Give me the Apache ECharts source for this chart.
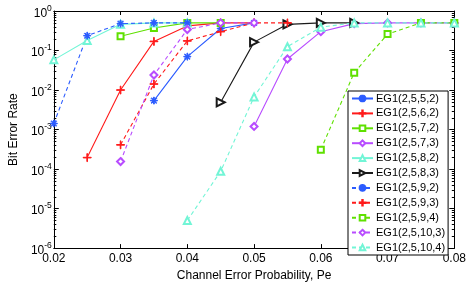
<!DOCTYPE html>
<html><head><meta charset="utf-8">
<script src="https://cdn.jsdelivr.net/npm/echarts@6/dist/echarts.min.js"></script>
<style>html,body{margin:0;padding:0;background:#fff}#c{width:469px;height:287px}</style>
</head><body><div id="c"></div>
<script>
// ---- data ----
const xTicks = [0.02, 0.03, 0.04, 0.05, 0.06, 0.07, 0.08];
const yExponents = [-6, -5, -4, -3, -2, -1, 0];
const seriesNames = ['EG1(2,5,5,2)','EG1(2,5,6,2)','EG1(2,5,7,2)','EG1(2,5,7,3)','EG1(2,5,8,2)','EG1(2,5,8,3)',
  'EG1(2,5,9,2)','EG1(2,5,9,3)','EG1(2,5,9,4)','EG1(2,5,10,3)','EG1(2,5,10,4)'];
const pe_5_2  = [0.035, 0.04, 0.045, 0.05];
const ber_5_2 = [5.4e-3, 0.07, 0.36, 0.5];
const pe_6_2  = [0.025, 0.03, 0.035, 0.04, 0.045, 0.05];
const ber_6_2 = [1.95e-4, 0.010, 0.17, 0.42, 0.5, 0.5];
const pe_7_2  = [0.03, 0.035, 0.04, 0.045];
const ber_7_2 = [0.23, 0.37, 0.5, 0.5];
const pe_7_3  = [0.05, 0.055, 0.06, 0.065, 0.07, 0.075, 0.08];
const ber_7_3 = [1.2e-3, 0.061, 0.30, 0.48, 0.5, 0.5, 0.5];
const pe_8_2  = [0.02, 0.025, 0.03, 0.035, 0.04];
const ber_8_2 = [0.058, 0.18, 0.46, 0.5, 0.5];
const pe_8_3  = [0.045, 0.05, 0.055, 0.06, 0.065];
const ber_8_3 = [4.9e-3, 0.163, 0.46, 0.5, 0.5];
const pe_9_2  = [0.02, 0.025, 0.03, 0.035, 0.04];
const ber_9_2 = [1.42e-3, 0.237, 0.48, 0.5, 0.5];
const pe_9_3  = [0.03, 0.035, 0.04, 0.045, 0.05, 0.055];
const ber_9_3 = [4.1e-4, 0.0142, 0.175, 0.30, 0.5, 0.5];
const pe_9_4  = [0.06, 0.065, 0.07, 0.075, 0.08];
const ber_9_4 = [3.1e-4, 0.0275, 0.26, 0.5, 0.5];
const pe_10_3  = [0.03, 0.035, 0.04, 0.045, 0.05];
const ber_10_3 = [1.55e-4, 0.024, 0.34, 0.5, 0.5];
const pe_10_4  = [0.04, 0.045, 0.05, 0.055, 0.06, 0.065, 0.07, 0.075, 0.08];
const ber_10_4 = [5e-6, 8.8e-5, 6.7e-3, 0.125, 0.39, 0.5, 0.5, 0.5, 0.5];
const minorTickValues = [];
for (let e = -6; e < 0; e++) for (let m = 2; m <= 9; m++) minorTickValues.push(m * Math.pow(10, e));

// ---- styles ----
const BLUE = '#2b5bff', RED = '#ff1a1a', GREEN = '#5fe000', PURPLE = '#b84cff', CYAN = '#72f5d6', BLACK = '#1a1a1a';
const ASTER = 'path://M0,9 L20,9 L20,11 L0,11 Z M9,0 L11,0 L11,20 L9,20 Z M2,3.4 L3.4,2 L18,16.6 L16.6,18 Z M16.6,2 L18,3.4 L3.4,18 L2,16.6 Z';
const PLUS = 'path://M0,9.2 L20,9.2 L20,10.8 L0,10.8 Z M9.2,0 L10.8,0 L10.8,20 L9.2,20 Z';
const FONT = '"Liberation Sans", Arial, Helvetica, sans-serif';

function pairs(xs, ys) { return xs.map((x, i) => [x, ys[i]]); }
function mk(name, xs, ys, color, dashed, symbol, size, rotate) {
  return {
    name, type: 'line', data: pairs(xs, ys), symbol, symbolSize: size, symbolRotate: rotate || 0,
    showAllSymbol: true, animation: false,
    lineStyle: { color, width: 1.1, type: dashed ? [4, 3] : 'solid' },
    itemStyle: { color, borderColor: color, borderWidth: 1 },
    emphasis: { disabled: true }
  };
}

const series = [
  mk(seriesNames[0], pe_5_2, ber_5_2, BLUE, false, ASTER, 7),
  mk(seriesNames[1], pe_6_2, ber_6_2, RED, false, PLUS, 8),
  mk(seriesNames[2], pe_7_2, ber_7_2, GREEN, false, 'emptyRect', 6),
  mk(seriesNames[3], pe_7_3, ber_7_3, PURPLE, false, 'emptyDiamond', 7),
  mk(seriesNames[4], pe_8_2, ber_8_2, CYAN, false, 'emptyTriangle', 7),
  mk(seriesNames[5], pe_8_3, ber_8_3, BLACK, false, 'emptyTriangle', 8, -90),
  mk(seriesNames[6], pe_9_2, ber_9_2, BLUE, true, ASTER, 7),
  mk(seriesNames[7], pe_9_3, ber_9_3, RED, true, PLUS, 8),
  mk(seriesNames[8], pe_9_4, ber_9_4, GREEN, true, 'emptyRect', 6),
  mk(seriesNames[9], pe_10_3, ber_10_3, PURPLE, true, 'emptyDiamond', 7),
  mk(seriesNames[10], pe_10_4, ber_10_4, CYAN, true, 'emptyTriangle', 7),
  {
    type: 'custom', silent: true, animation: false, clip: false,
    data: minorTickValues.map(v => [xTicks[0], v]),
    renderItem: function (params, api) {
      const v = api.value(1);
      const a = api.coord([xTicks[0], v]);
      const b = api.coord([xTicks[xTicks.length - 1], v]);
      const y = Math.round(a[1]) + 0.5;
      return { type: 'group', children: [
        { type: 'line', shape: { x1: a[0], y1: y, x2: a[0] + 2.5, y2: y }, style: { stroke: '#000', lineWidth: 1 } },
        { type: 'line', shape: { x1: b[0], y1: y, x2: b[0] - 2.5, y2: y }, style: { stroke: '#000', lineWidth: 1 } }
      ]};
    }
  }
];

const axisLineStyle = { lineStyle: { color: '#000', width: 1 } };
const chart = echarts.init(document.getElementById('c'), null, { renderer: 'canvas' });
chart.setOption({
  backgroundColor: '#fff',
  animation: false,
  grid: { left: 42, right: 12, top: 11, bottom: 30, containLabel: false },
  xAxis: [
    { type: 'value', min: xTicks[0], max: xTicks[xTicks.length - 1], interval: 0.01,
      name: 'Channel Error Probability, Pe', nameLocation: 'middle', nameGap: 18,
      nameTextStyle: { fontSize: 12, color: '#000', fontFamily: FONT },
      axisLine: axisLineStyle, axisTick: { inside: true, length: 4, lineStyle: { color: '#000' } },
      axisLabel: { fontSize: 12, color: '#000', fontFamily: FONT, margin: 5, formatter: v => v.toFixed(2) },
      splitLine: { show: false } },
    { type: 'value', position: 'top', min: xTicks[0], max: xTicks[xTicks.length - 1], interval: 0.01,
      axisLine: axisLineStyle, axisTick: { inside: true, length: 4, lineStyle: { color: '#000' } },
      axisLabel: { show: false }, splitLine: { show: false } }
  ],
  yAxis: [
    { type: 'log', logBase: 10, min: Math.pow(10, yExponents[0]), max: Math.pow(10, yExponents[yExponents.length - 1]),
      name: 'Bit Error Rate', nameLocation: 'middle', nameGap: 29,
      nameTextStyle: { fontSize: 12, color: '#000', fontFamily: FONT },
      axisLine: axisLineStyle, axisTick: { inside: true, length: 5, lineStyle: { color: '#000' } },
      axisLabel: { margin: 2, fontFamily: FONT, color: '#000',
        formatter: v => '{b|10}{s|' + Math.round(Math.log10(v)) + '}',
        rich: { b: { fontSize: 12, color: '#000', fontFamily: FONT, lineHeight: 14, padding: [5, 0, 0, 0] },
                s: { fontSize: 8.5, color: '#000', fontFamily: FONT, verticalAlign: 'top', lineHeight: 10 } } },
      splitLine: { show: false } },
    { type: 'log', logBase: 10, position: 'right', min: Math.pow(10, yExponents[0]), max: Math.pow(10, yExponents[yExponents.length - 1]),
      axisLine: axisLineStyle, axisTick: { inside: true, length: 5, lineStyle: { color: '#000' } },
      axisLabel: { show: false }, splitLine: { show: false } }
  ],
  legend: {
    data: seriesNames, orient: 'vertical', left: 348, top: 91,
    itemWidth: 21, itemHeight: 7, itemGap: 1.9, padding: [1, 3, 1, 3],
    backgroundColor: '#fff', borderColor: '#000', borderWidth: 1, borderRadius: 0,
    textStyle: { fontSize: 11, lineHeight: 13, color: '#000', fontFamily: FONT, padding: [0, 0, 0, -2] },
    selectedMode: false
  },
  series
});
</script></body></html>
